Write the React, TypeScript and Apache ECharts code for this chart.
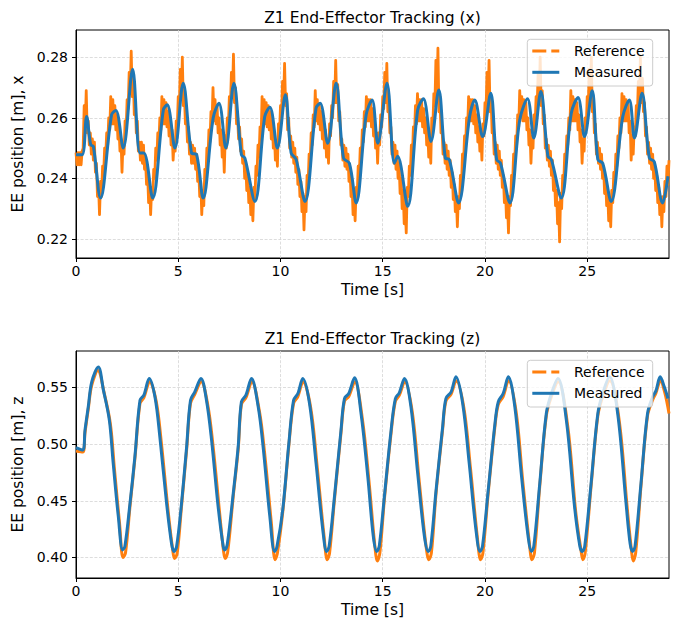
import React, { useEffect, useRef } from "react";
import * as echarts from "echarts";

// ---------- tick labels ----------
const TIME_TICKS = [0, 5, 10, 15, 20, 25];
const X_TICKS = [0.22, 0.24, 0.26, 0.28];
const Z_TICKS = [0.4, 0.45, 0.5, 0.55];

// ---------- top panel: reference x (noisy band) ----------
// upper edge of the band, read every 0.1 s starting at 0 s
const REF_X_STEP = 0.1;
const REF_X_HIGH = [
  0.2485, 0.2485, 0.2485, 0.249, 0.264, 0.269, 0.259, 0.255, 0.253, 0.252,
  0.245, 0.238, 0.239, 0.244, 0.250, 0.255, 0.260, 0.267, 0.266, 0.264,
  0.261, 0.257, 0.253, 0.252, 0.259, 0.266, 0.275, 0.282, 0.274, 0.265,
  0.259, 0.252, 0.252, 0.251, 0.246, 0.242, 0.238, 0.237, 0.243, 0.250,
  0.255, 0.260, 0.267, 0.266, 0.265, 0.262, 0.259, 0.256, 0.252, 0.259,
  0.267, 0.276, 0.280, 0.268, 0.261, 0.257, 0.252, 0.251, 0.250, 0.248,
  0.243, 0.239, 0.236, 0.243, 0.250, 0.256, 0.262, 0.270, 0.266, 0.264,
  0.260, 0.256, 0.252, 0.254, 0.260, 0.267, 0.275, 0.281, 0.270, 0.261,
  0.257, 0.253, 0.249, 0.245, 0.241, 0.237, 0.234, 0.237, 0.244, 0.251,
  0.257, 0.267, 0.266, 0.265, 0.264, 0.262, 0.258, 0.255, 0.251, 0.258,
  0.264, 0.272, 0.278, 0.268, 0.260, 0.254, 0.252, 0.250, 0.247, 0.243,
  0.239, 0.235, 0.234, 0.241, 0.248, 0.255, 0.261, 0.269, 0.266, 0.264,
  0.262, 0.259, 0.256, 0.253, 0.258, 0.264, 0.272, 0.279, 0.271, 0.262,
  0.253, 0.251, 0.250, 0.248, 0.243, 0.238, 0.234, 0.237, 0.244, 0.250,
  0.256, 0.262, 0.267, 0.266, 0.266, 0.263, 0.259, 0.255, 0.255, 0.261,
  0.267, 0.275, 0.278, 0.266, 0.257, 0.252, 0.251, 0.249, 0.245, 0.240,
  0.236, 0.231, 0.237, 0.244, 0.251, 0.257, 0.264, 0.268, 0.266, 0.266,
  0.263, 0.260, 0.256, 0.253, 0.260, 0.268, 0.279, 0.283, 0.267, 0.257,
  0.252, 0.251, 0.249, 0.246, 0.242, 0.238, 0.234, 0.234, 0.241, 0.248,
  0.254, 0.260, 0.267, 0.266, 0.266, 0.264, 0.261, 0.257, 0.254, 0.258,
  0.265, 0.275, 0.279, 0.266, 0.257, 0.252, 0.251, 0.249, 0.246, 0.241,
  0.237, 0.233, 0.234, 0.241, 0.248, 0.254, 0.261, 0.269, 0.267, 0.266,
  0.265, 0.260, 0.256, 0.254, 0.261, 0.267, 0.275, 0.280, 0.269, 0.261,
  0.253, 0.251, 0.249, 0.246, 0.241, 0.236, 0.232, 0.235, 0.241, 0.248,
  0.254, 0.260, 0.269, 0.267, 0.266, 0.265, 0.261, 0.256, 0.253, 0.260,
  0.267, 0.276, 0.280, 0.266, 0.258, 0.252, 0.250, 0.248, 0.244, 0.240,
  0.236, 0.233, 0.236, 0.242, 0.248, 0.254, 0.260, 0.268, 0.267, 0.266,
  0.265, 0.259, 0.254, 0.257, 0.264, 0.272, 0.280, 0.273, 0.265, 0.257,
  0.252, 0.250, 0.248, 0.244, 0.241, 0.237, 0.234, 0.234, 0.239, 0.244,
  0.246,
];
// lower edge of the band, read every 0.1 s starting at 0.05 s
const REF_X_LOW = [
  0.2445, 0.2445, 0.2445, 0.250, 0.257, 0.255, 0.251, 0.248, 0.246, 0.242,
  0.234, 0.228, 0.234, 0.241, 0.247, 0.251, 0.256, 0.258, 0.258, 0.256,
  0.253, 0.249, 0.242, 0.248, 0.256, 0.263, 0.268, 0.267, 0.261, 0.255,
  0.249, 0.246, 0.245, 0.243, 0.238, 0.232, 0.228, 0.233, 0.240, 0.246,
  0.251, 0.256, 0.258, 0.258, 0.257, 0.254, 0.251, 0.246, 0.249, 0.256,
  0.263, 0.266, 0.264, 0.258, 0.252, 0.248, 0.245, 0.245, 0.243, 0.239,
  0.234, 0.228, 0.231, 0.239, 0.246, 0.252, 0.258, 0.259, 0.258, 0.255,
  0.251, 0.247, 0.242, 0.250, 0.257, 0.263, 0.267, 0.265, 0.258, 0.253,
  0.249, 0.245, 0.240, 0.236, 0.232, 0.228, 0.226, 0.233, 0.241, 0.247,
  0.253, 0.257, 0.258, 0.257, 0.256, 0.253, 0.250, 0.246, 0.244, 0.254,
  0.259, 0.265, 0.264, 0.256, 0.250, 0.247, 0.245, 0.242, 0.238, 0.234,
  0.229, 0.223, 0.229, 0.238, 0.245, 0.251, 0.257, 0.259, 0.258, 0.256,
  0.253, 0.250, 0.247, 0.245, 0.254, 0.260, 0.265, 0.265, 0.259, 0.251,
  0.246, 0.244, 0.243, 0.239, 0.234, 0.228, 0.226, 0.234, 0.240, 0.246,
  0.252, 0.257, 0.259, 0.259, 0.257, 0.254, 0.250, 0.245, 0.251, 0.257,
  0.263, 0.265, 0.262, 0.255, 0.248, 0.245, 0.243, 0.240, 0.235, 0.230,
  0.225, 0.222, 0.234, 0.241, 0.247, 0.253, 0.258, 0.259, 0.259, 0.257,
  0.255, 0.251, 0.247, 0.245, 0.257, 0.264, 0.266, 0.262, 0.255, 0.248,
  0.245, 0.243, 0.241, 0.237, 0.233, 0.229, 0.224, 0.230, 0.237, 0.244,
  0.250, 0.256, 0.259, 0.259, 0.258, 0.255, 0.252, 0.249, 0.246, 0.254,
  0.262, 0.265, 0.262, 0.255, 0.248, 0.245, 0.243, 0.241, 0.237, 0.232,
  0.227, 0.222, 0.231, 0.238, 0.244, 0.251, 0.257, 0.260, 0.259, 0.259,
  0.256, 0.251, 0.245, 0.250, 0.257, 0.263, 0.266, 0.264, 0.258, 0.250,
  0.246, 0.244, 0.241, 0.236, 0.231, 0.225, 0.219, 0.230, 0.238, 0.245,
  0.251, 0.256, 0.259, 0.259, 0.259, 0.256, 0.252, 0.245, 0.249, 0.256,
  0.263, 0.266, 0.262, 0.255, 0.248, 0.245, 0.243, 0.240, 0.235, 0.231,
  0.226, 0.224, 0.232, 0.238, 0.244, 0.250, 0.255, 0.259, 0.259, 0.259,
  0.255, 0.246, 0.248, 0.254, 0.260, 0.265, 0.265, 0.262, 0.254, 0.248,
  0.245, 0.243, 0.240, 0.236, 0.232, 0.228, 0.224, 0.229, 0.234, 0.238,
];

// ---------- top panel: measured x ----------
const MEAS_X_TIMES = [
  0, 0.3, 0.52, 0.72, 0.85, 1.2, 1.74, 1.95, 2.31, 2.77, 3.13, 3.32, 3.75, 4.27, 4.46, 4.84,
  5.24, 5.65, 5.9, 6.22, 6.71, 6.99, 7.33, 7.72, 8.09, 8.26, 8.75, 9.23, 9.48, 9.85, 10.24,
  10.52, 10.77, 11.2, 11.74, 11.94, 12.31, 12.72, 13.08, 13.37, 13.7, 14.19, 14.48, 14.76,
  15.21, 15.57, 15.73, 16.22, 16.71, 16.99, 17.36, 17.74, 18.06, 18.26, 18.71, 19.25, 19.5,
  19.89, 20.28, 20.57, 20.76, 21.22, 21.7, 22.08, 22.39, 22.73, 23.08, 23.25, 23.73, 24.22,
  24.55, 24.87, 25.24, 25.52, 25.76, 26.17, 26.74, 27.06, 27.31, 27.68, 28.04, 28.28, 28.69,
  28.95,
];
const MEAS_X_VALUES = [
  0.2478, 0.2478, 0.2604, 0.2511, 0.2505, 0.2335, 0.261, 0.2624, 0.25, 0.276, 0.2484, 0.2484,
  0.2335, 0.2626, 0.2643, 0.25, 0.2714, 0.2484, 0.2478, 0.2335, 0.26, 0.2648, 0.25, 0.2714,
  0.2478, 0.2467, 0.2324, 0.2604, 0.2635, 0.25, 0.2676, 0.2484, 0.2462, 0.2324, 0.2632,
  0.2648, 0.2516, 0.2714, 0.2467, 0.245, 0.2319, 0.261, 0.2659, 0.2516, 0.2714, 0.245,
  0.2473, 0.2308, 0.2626, 0.2663, 0.2522, 0.2692, 0.2467, 0.2462, 0.2319, 0.2604, 0.2659,
  0.2538, 0.2681, 0.2462, 0.245, 0.2319, 0.2593, 0.2663, 0.2533, 0.2687, 0.2473, 0.2462,
  0.2335, 0.2615, 0.2667, 0.2538, 0.2689, 0.2462, 0.245, 0.2324, 0.2604, 0.2659, 0.2533,
  0.2681, 0.2467, 0.2455, 0.2319, 0.2407,
];

// ---------- bottom panel: reference z ----------
const REF_Z_TIMES = [
  0, 0.33, 0.44, 0.6, 0.77, 1.07, 1.38, 1.68, 1.88, 2.13,
  2.3, 2.42, 2.64, 2.88, 3.13, 3.32, 3.6, 3.92, 4.17, 4.5,
  4.72, 4.82, 4.95, 5.16, 5.41, 5.6, 5.81, 6.12, 6.44, 6.7,
  7.02, 7.22, 7.3, 7.42, 7.69, 7.93, 8.09, 8.31, 8.6, 8.97,
  9.22, 9.55, 9.74, 9.85, 10.11, 10.41, 10.64, 10.85, 11.1, 11.48,
  11.8, 12.13, 12.29, 12.4, 12.64, 12.96, 13.13, 13.34, 13.63, 14.0,
  14.33, 14.6, 14.74, 14.86, 15.08, 15.41, 15.62, 15.81, 16.07, 16.44,
  16.77, 17.1, 17.26, 17.38, 17.61, 17.93, 18.09, 18.34, 18.59, 18.97,
  19.29, 19.62, 19.79, 19.9, 20.16, 20.49, 20.65, 20.89, 21.15, 21.52,
  21.85, 22.17, 22.3, 22.42, 22.68, 23.0, 23.25, 23.58, 24.04, 24.44,
  24.7, 24.79, 24.9, 25.19, 25.52, 25.76, 26.1, 26.55, 26.96, 27.16,
  27.25, 27.37, 27.63, 27.95, 28.2, 28.36, 28.58, 28.8, 29.0,
];
const REF_Z_VALUES = [
  0.494, 0.493, 0.51, 0.531, 0.552, 0.565, 0.545, 0.518, 0.478, 0.43,
  0.4, 0.404, 0.445, 0.487, 0.536, 0.541, 0.555, 0.538, 0.502, 0.442,
  0.408, 0.399, 0.404, 0.445, 0.495, 0.536, 0.544, 0.555, 0.535, 0.499,
  0.44, 0.405, 0.399, 0.405, 0.454, 0.495, 0.535, 0.541, 0.555, 0.529,
  0.493, 0.431, 0.398, 0.404, 0.44, 0.499, 0.536, 0.542, 0.555, 0.532,
  0.479, 0.419, 0.398, 0.404, 0.451, 0.51, 0.538, 0.542, 0.555, 0.523,
  0.467, 0.413, 0.397, 0.404, 0.451, 0.51, 0.538, 0.543, 0.555, 0.529,
  0.47, 0.413, 0.398, 0.404, 0.457, 0.513, 0.538, 0.544, 0.556, 0.532,
  0.479, 0.419, 0.398, 0.404, 0.457, 0.516, 0.535, 0.542, 0.556, 0.529,
  0.467, 0.413, 0.398, 0.404, 0.463, 0.525, 0.542, 0.555, 0.517, 0.44,
  0.406, 0.398, 0.404, 0.463, 0.525, 0.542, 0.556, 0.523, 0.443, 0.407,
  0.397, 0.404, 0.463, 0.525, 0.539, 0.545, 0.556, 0.545, 0.527,
];

// ---------- bottom panel: measured z ----------
const MEAS_Z_TIMES = [
  0, 0.33, 0.44, 0.6, 0.77, 1.09, 1.34, 1.63, 1.82, 2.07,
  2.28, 2.39, 2.64, 2.88, 3.13, 3.32, 3.58, 3.86, 4.1, 4.43,
  4.67, 4.79, 4.92, 5.16, 5.41, 5.6, 5.81, 6.11, 6.38, 6.63,
  6.95, 7.2, 7.28, 7.4, 7.69, 7.93, 8.09, 8.31, 8.58, 8.91,
  9.15, 9.48, 9.71, 9.82, 10.11, 10.41, 10.64, 10.85, 11.09, 11.42,
  11.74, 12.07, 12.26, 12.38, 12.64, 12.96, 13.13, 13.34, 13.62, 13.94,
  14.27, 14.54, 14.71, 14.83, 15.08, 15.41, 15.62, 15.81, 16.06, 16.38,
  16.71, 17.04, 17.23, 17.35, 17.61, 17.93, 18.09, 18.34, 18.58, 18.91,
  19.23, 19.56, 19.76, 19.88, 20.16, 20.49, 20.65, 20.89, 21.14, 21.46,
  21.79, 22.11, 22.27, 22.39, 22.68, 23.0, 23.25, 23.57, 23.98, 24.38,
  24.64, 24.76, 24.88, 25.19, 25.52, 25.76, 26.09, 26.49, 26.9, 27.1,
  27.22, 27.34, 27.63, 27.95, 28.2, 28.36, 28.57, 28.77, 28.95,
];
const MEAS_Z_VALUES = [
  0.497, 0.4948, 0.5124, 0.533, 0.555, 0.568, 0.5477, 0.5212, 0.483, 0.436,
  0.4067, 0.4097, 0.4478, 0.489, 0.5388, 0.5432, 0.558, 0.5418, 0.5065, 0.4478,
  0.4126, 0.4053, 0.4097, 0.4478, 0.4977, 0.5388, 0.5462, 0.558, 0.5388, 0.5036,
  0.4449, 0.4097, 0.4067, 0.412, 0.4566, 0.4977, 0.5374, 0.5432, 0.558, 0.533,
  0.4977, 0.436, 0.4053, 0.409, 0.442, 0.5009, 0.5388, 0.5447, 0.558, 0.5359,
  0.483, 0.4243, 0.4053, 0.41, 0.4537, 0.5124, 0.5403, 0.5447, 0.5585, 0.5271,
  0.4713, 0.4185, 0.4053, 0.41, 0.4537, 0.5124, 0.5403, 0.5453, 0.558, 0.533,
  0.4742, 0.4185, 0.4053, 0.41, 0.4596, 0.5153, 0.5403, 0.546, 0.5594, 0.5359,
  0.483, 0.4243, 0.4053, 0.41, 0.4596, 0.5183, 0.5374, 0.5447, 0.5594, 0.533,
  0.4713, 0.4185, 0.4053, 0.41, 0.4654, 0.5271, 0.5447, 0.558, 0.5212, 0.4449,
  0.41, 0.4053, 0.41, 0.4654, 0.5271, 0.5447, 0.5594, 0.5271, 0.4478, 0.412,
  0.4053, 0.41, 0.4654, 0.5271, 0.5418, 0.547, 0.5594, 0.5506, 0.5403,
];

const TITLES = ["Z1 End-Effector Tracking (x)", "Z1 End-Effector Tracking (z)"];
const Y_NAMES = ["EE position [m], x", "EE position [m], z"];
const X_NAME = "Time [s]";
const LEGEND_NAMES = ["Reference", "Measured"];

const ORANGE = "#ff7f0e";
const BLUE = "#1f77b4";
const FONT = "DejaVu Sans";

export default function App() {
  const ref = useRef<HTMLDivElement>(null);

  useEffect(() => {
    if (!ref.current) return;
    const chart = echarts.init(ref.current, undefined, { renderer: "svg" });

    // interleave the band's upper and lower edges into one noisy trace
    const refX: number[][] = [];
    REF_X_HIGH.forEach((v, i) => {
      refX.push([i * REF_X_STEP, v]);
      if (i < REF_X_LOW.length) refX.push([i * REF_X_STEP + REF_X_STEP / 2, REF_X_LOW[i]]);
    });
    const measX = MEAS_X_TIMES.map((t, i) => [t, MEAS_X_VALUES[i]]);
    const refZ = REF_Z_TIMES.map((t, i) => [t, REF_Z_VALUES[i]]);
    const measZ = MEAS_Z_TIMES.map((t, i) => [t, MEAS_Z_VALUES[i]]);

    const gridBoxes = [
      { left: 76, top: 30, width: 593, height: 228 },
      { left: 76, top: 351, width: 593, height: 227 },
    ];
    const yRanges = [
      [0.2137, 0.289],
      [0.3819, 0.5822],
    ];
    const yTicks = [X_TICKS, Z_TICKS];

    const splitLine = {
      show: true,
      lineStyle: { color: "#d4d4d4", width: 0.8, type: [3, 1.6] as any },
    };

    const xAxes = gridBoxes.map((_, i) => ({
      type: "value",
      gridIndex: i,
      min: 0,
      max: 29,
      name: X_NAME,
      nameLocation: "middle",
      nameGap: 24,
      nameTextStyle: { fontSize: 15.5, color: "#000", fontFamily: FONT },
      axisLine: { show: true, onZero: false, lineStyle: { color: "#000", width: 1 } },
      axisTick: { show: true, length: 4, customValues: TIME_TICKS, lineStyle: { color: "#000", width: 1 } },
      axisLabel: { customValues: TIME_TICKS, fontSize: 14, color: "#000", fontFamily: FONT, margin: 6 },
      splitLine,
    }));

    const yAxes = gridBoxes.map((_, i) => ({
      type: "value",
      gridIndex: i,
      min: yRanges[i][0],
      max: yRanges[i][1],
      name: Y_NAMES[i],
      nameLocation: "middle",
      nameGap: 42,
      nameRotate: 90,
      nameTextStyle: { fontSize: 15.5, color: "#000", fontFamily: FONT },
      axisLine: { show: true, onZero: false, lineStyle: { color: "#000", width: 1 } },
      axisTick: { show: true, length: 4, customValues: yTicks[i], lineStyle: { color: "#000", width: 1 } },
      axisLabel: {
        customValues: yTicks[i],
        fontSize: 14,
        color: "#000",
        fontFamily: FONT,
        margin: 8,
        formatter: (v: number) => v.toFixed(2),
      },
      splitLine,
    }));

    const graphics: any[] = [];
    gridBoxes.forEach((g, i) => {
      graphics.push({
        type: "text",
        z: 100,
        x: g.left + g.width / 2,
        y: g.top - 12,
        style: {
          text: TITLES[i],
          fill: "#000",
          font: `15.5px "${FONT}"`,
          align: "center",
          verticalAlign: "middle",
          textAlign: "center",
          textVerticalAlign: "middle",
        },
      });
      const lx = 527.3;
      const ly = g.top + 9.3;
      graphics.push({
        type: "rect",
        z: 100,
        shape: { x: lx, y: ly, width: 125.4, height: 46.7, r: 3 },
        style: { fill: "rgba(255,255,255,0.8)", stroke: "#cccccc", lineWidth: 1 },
      });
      graphics.push({
        type: "line",
        z: 101,
        shape: { x1: lx + 5, y1: ly + 11.7, x2: lx + 32, y2: ly + 11.7 },
        style: { stroke: ORANGE, lineWidth: 2.8, lineDash: [14, 5] },
      });
      graphics.push({
        type: "line",
        z: 101,
        shape: { x1: lx + 5, y1: ly + 33, x2: lx + 32, y2: ly + 33 },
        style: { stroke: BLUE, lineWidth: 3 },
      });
      LEGEND_NAMES.forEach((name, k) => {
        graphics.push({
          type: "text",
          z: 101,
          x: lx + 46.7,
          y: ly + (k === 0 ? 11.7 : 33),
          style: {
            text: name,
            fill: "#000",
            font: `14px "${FONT}"`,
            align: "left",
            verticalAlign: "middle",
            textAlign: "left",
            textVerticalAlign: "middle",
          },
        });
      });
    });

    const option: any = {
      animation: false,
      backgroundColor: "#ffffff",
      grid: gridBoxes.map((g) => ({
        ...g,
        show: true,
        borderColor: "#000",
        borderWidth: 1,
        backgroundColor: "transparent",
        containLabel: false,
      })),
      xAxis: xAxes,
      yAxis: yAxes,
      series: [
        {
          type: "line",
          name: "Reference",
          xAxisIndex: 0,
          yAxisIndex: 0,
          data: refX,
          symbol: "none",
          lineStyle: { color: ORANGE, width: 2.8, join: "round" },
          z: 2,
        },
        {
          type: "line",
          name: "Measured",
          xAxisIndex: 0,
          yAxisIndex: 0,
          data: measX,
          symbol: "none",
          smooth: 0.35,
          lineStyle: { color: BLUE, width: 3 },
          z: 3,
        },
        {
          type: "line",
          name: "Reference",
          xAxisIndex: 1,
          yAxisIndex: 1,
          data: refZ,
          symbol: "none",
          smooth: 0.35,
          lineStyle: { color: ORANGE, width: 3 },
          z: 2,
        },
        {
          type: "line",
          name: "Measured",
          xAxisIndex: 1,
          yAxisIndex: 1,
          data: measZ,
          symbol: "none",
          smooth: 0.35,
          lineStyle: { color: BLUE, width: 3 },
          z: 3,
        },
      ],
      graphic: { elements: graphics },
    };

    chart.setOption(option);
    return () => chart.dispose();
  }, []);

  return (
    <div
      ref={ref}
      style={{ position: "absolute", left: 0, top: 0, width: 681, height: 620, background: "#fff" }}
    />
  );
}
